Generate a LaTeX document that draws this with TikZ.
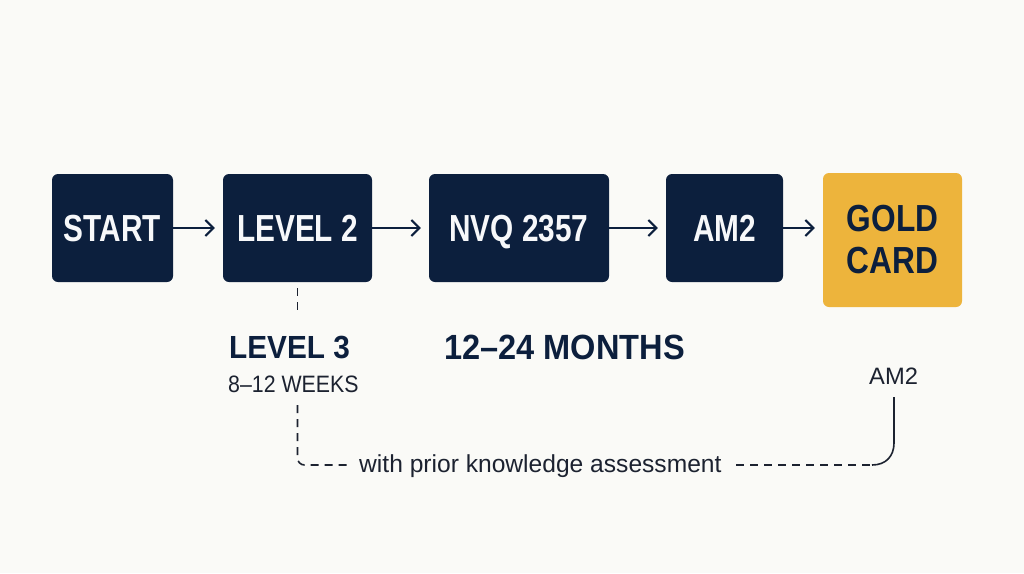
\documentclass[tikz,border=0pt]{standalone}
\usepackage{fontspec}
\setmainfont{Liberation Sans}
\newfontfamily\fboxf[FakeStretch=0.79]{Liberation Sans}
\newfontfamily\fgold[FakeStretch=0.84]{Liberation Sans}
\newfontfamily\flab[FakeStretch=0.93]{Liberation Sans}
\newfontfamily\fweek[FakeStretch=0.9]{Liberation Sans}
\usetikzlibrary{arrows.meta}
\definecolor{navy}{HTML}{0C1F3D}
\definecolor{gold}{HTML}{EDB43C}
\definecolor{bg}{HTML}{FAFAF7}
\definecolor{ink}{HTML}{1C2230}
\definecolor{txtw}{HTML}{F7F8FA}
\tikzset{
  stepbox/.style={draw=none, fill=navy, rounded corners=6pt, text=txtw,
    font=\fboxf\bfseries\fontsize{37.7}{40}\selectfont, minimum height=108pt,
    inner sep=0pt, text height=27pt, text depth=0pt},
  goldbox/.style={draw=none, fill=gold, rounded corners=6pt, text=navy,
    font=\fgold\bfseries\fontsize{37.7}{42}\selectfont, minimum width=139pt,
    minimum height=134pt, inner sep=0pt, align=center},
  flow/.style={draw=navy, line width=2pt, -{Straight Barb[length=8pt,width=16pt,line width=2pt]}, shorten >=8pt},
  dashline/.style={draw=ink, line width=1.6pt, dash pattern=on 8pt off 6pt},
  solidline/.style={draw=ink, line width=1.6pt},
  biglab/.style={anchor=base west, inner sep=0pt, text=navy, font=\flab\bfseries\fontsize{32}{34}\selectfont},
  smalllab/.style={anchor=base west, inner sep=0pt, text=ink},
}
\begin{document}
\begin{tikzpicture}[x=1pt, y=-1pt]
\useasboundingbox (0,0) rectangle (1024,573);
\fill[bg] (0,0) rectangle (1024,573);

\node[stepbox, minimum width=121pt] (start) at (112.5,228) {START};
\node[stepbox, minimum width=149pt] (lvl2) at (297.5,228) {LEVEL 2};
\node[stepbox, minimum width=180pt] (nvq) at (519,228) {NVQ 2357};
\node[stepbox, minimum width=117pt] (am2) at (724.5,228) {AM2};
\node[goldbox] (gold) at (892.5,240) {GOLD\\CARD};

\draw[flow] (start.east) -- (start.east -| lvl2.west);
\draw[flow] (lvl2.east) -- (lvl2.east -| nvq.west);
\draw[flow] (nvq.east) -- (nvq.east -| am2.west);
\draw[flow] (am2.east) -- (am2.east -| gold.west);

\node[biglab] (lvl3) at (229,358) {LEVEL 3};
\node[smalllab, font=\fweek\fontsize{23.7}{26}\selectfont] (weeks) at (228,392) {8–12 WEEKS};
\node[biglab, font=\flab\bfseries\fontsize{35}{37}\selectfont] (months) at (444,359) {12–24 MONTHS};
\node[smalllab, font=\fontsize{23.7}{26}\selectfont] (am2lab) at (869,384) {AM2};
\node[smalllab, font=\fontsize{24.6}{27}\selectfont] (wpk) at (359,472) {with prior knowledge assessment};

\coordinate (d1) at (297.5,313);
\coordinate (d2) at (297.5,405);
\coordinate (d3) at (297.5,465);
\coordinate (d4) at (352,465);
\coordinate (e1) at (736,465);
\coordinate (e2) at (872,465);
\coordinate (e3) at (894,443);
\coordinate (e4) at (894,397);

\draw[dashline] (lvl2.south |- 0,288) -- (d1);
\draw[dashline, rounded corners=7pt] (d2) -- (d3) -- (d4);
\draw[dashline] (e1) -- (e2);
\draw[solidline] (e2) .. controls (886,465) and (894,456) .. (e3) -- (e4);
\end{tikzpicture}
\end{document}
